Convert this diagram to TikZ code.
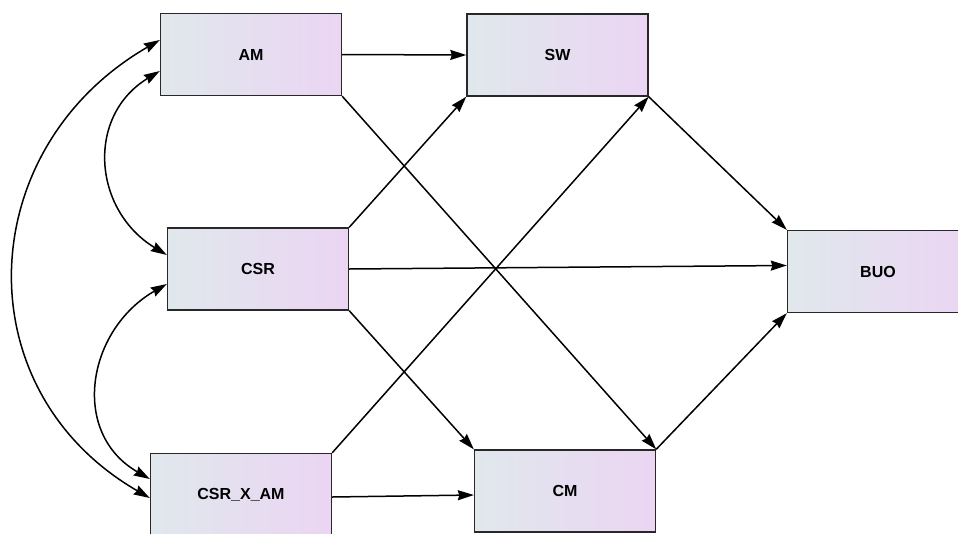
\documentclass[tikz,border=0pt]{standalone}
\usepackage{fontspec}
\setmainfont{Liberation Sans}
\usetikzlibrary{arrows.meta}
\definecolor{boxL}{RGB}{224,232,236}
\definecolor{boxR}{RGB}{235,213,243}
\definecolor{boxB}{RGB}{40,40,40}
\tikzset{
  box/.style={draw=boxB, line width=1.4pt, left color=boxL, right color=boxR,
    minimum width=181pt, minimum height=82pt, inner sep=0pt,
    font=\fontsize{16}{18}\selectfont\bfseries},
  arr/.style={-{Stealth[length=16pt,width=10pt,inset=1.5pt]}, line width=1.5pt, black},
  darr/.style={{Stealth[length=16pt,width=10pt,inset=1.5pt]}-{Stealth[length=16pt,width=10pt,inset=1.5pt]}, line width=1.5pt, black}
}
\begin{document}
\begin{tikzpicture}[x=1pt,y=-1pt]
\useasboundingbox (0,0) rectangle (958,533);
\clip (0,0) rectangle (958,533);
\fill[white] (0,0) rectangle (958,533);
% boxes
\node[box] (AM)   at (251,54.5)  {AM};
\node[box] (SW)   at (557.5,55)  {SW};
\node[box] (CSR)  at (258,269)   {CSR};
\node[box] (BUO)  at (878,271.5) {BUO};
\node[box] (CXA)  at (241,494.5) {CSR\_X\_AM};
\node[box] (CM)   at (565,491)   {CM};
% straight paths
\draw[arr] (AM.east) -- (SW.west);
\draw[arr] (AM.south east) -- (CM.north east);
\draw[arr] (CSR.north east) -- (SW.south west);
\draw[arr] (CSR.east) -- ([yshift=6pt]BUO.west);
\draw[arr] (CSR.south east) -- (CM.north west);
\draw[arr] (CXA.north east) -- (SW.south east);
\draw[arr] ([yshift=-2.5pt]CXA.east) -- ([yshift=-4pt]CM.west);
\draw[arr] (SW.south east) -- (BUO.north west);
\draw[arr] (CM.north east) -- (BUO.south west);
% covariance arcs
\coordinate (amA) at ([yshift=14.5pt]AM.west);
\coordinate (amB) at ([yshift=-16.5pt]AM.west);
\coordinate (csA) at ([yshift=14pt]CSR.west);
\coordinate (csB) at ([yshift=-15pt]CSR.west);
\coordinate (cxA) at ([yshift=15.5pt]CXA.west);
\coordinate (cxB) at ([yshift=-3.5pt]CXA.west);
\draw[darr] (amA) .. controls +(-187,108) and +(-187,-108) .. (cxB);
\draw[darr] (amB) .. controls +(-74,45) and +(-74,-45) .. (csA);
\draw[darr] (csB) .. controls +(-80,46) and +(-80,-46) .. (cxA);
\end{tikzpicture}
\end{document}
